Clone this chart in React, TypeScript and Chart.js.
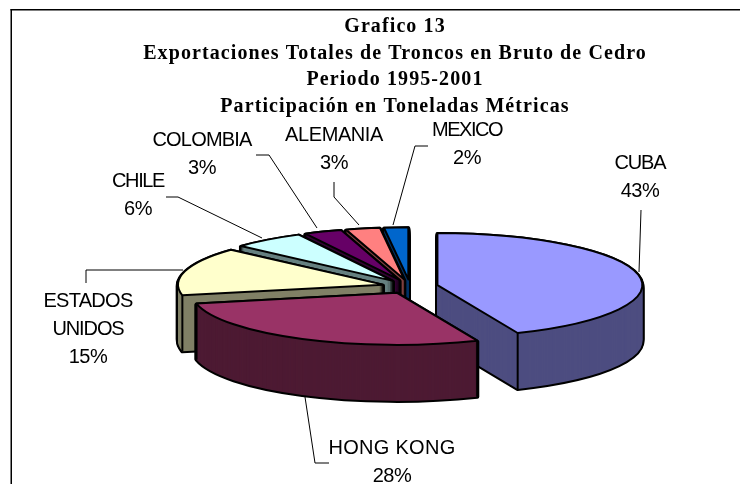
import React, { useEffect, useRef } from "react";
import { Chart, registerables } from "chart.js";

Chart.register(...registerables);

const categories = ["CUBA", "HONG KONG", "ESTADOS UNIDOS", "CHILE", "COLOMBIA", "ALEMANIA", "MEXICO"];
const shares = [43.6, 28.1, 15.0, 5.7, 3.0, 2.7, 1.9];
const percents = ["43%", "28%", "15%", "6%", "3%", "3%", "2%"];
const topColors = ["#9999FF", "#993366", "#FFFFCC", "#CCFFFF", "#660066", "#FF8080", "#0066CC"];
const wallColors = ["#4D4D80", "#4D1A33", "#808066", "#668080", "#330033", "#804040", "#003366"];
const titleLines = [
  "Grafico 13",
  "Exportaciones Totales de Troncos en Bruto de Cedro",
  "Periodo 1995-2001",
  "Participación en Toneladas Métricas",
];
const labelLines = [["CUBA"], ["HONG KONG"], ["ESTADOS", "UNIDOS"], ["CHILE"], ["COLOMBIA"], ["ALEMANIA"], ["MEXICO"]];
const labelTracking = [[-1.1], [0.3], [-0.7, -1.1], [-1.4], [-0.8], [-0.4], [-1.5]];
const labelAnchors = [
  [640, 163], [392, 448], [88, 301], [138, 181], [202, 140], [334, 135], [467, 130],
];
const leaders = [
  [[641, 210], [639, 272]],
  [[305, 397], [315, 463], [329, 463]],
  [[86, 283], [86, 270], [183, 270]],
  [[166, 197], [178, 197], [262, 238]],
  [[256, 155], [269, 155], [317, 228]],
  [[334, 182], [334, 197], [359, 225]],
  [[428, 146], [415, 146], [393, 225]],
];

const PIE_X = 410;
const PIE_Y = 286.5;
const RADIUS = 205;
const SQUASH = 0.254;
const DEPTH = 56;
const EXPLODE = 28;
const LINE = 2;
const LABEL_FONT = '20px "Liberation Sans"';
const LABEL_GAP = 28;

const arcOpts = (bg: string, border: string, width: number) => ({
  backgroundColor: bg,
  borderColor: border,
  borderWidth: width,
  borderJoinStyle: "round",
  borderAlign: "center",
  borderRadius: 0,
  borderDash: [],
  borderDashOffset: 0,
  offset: 0,
  spacing: 0,
  circular: true,
});

const pie3d = {
  id: "pie3d",
  afterDatasetsUpdate(chart: any) {
    chart.getDatasetMeta(0).data.forEach((arc: any) => {
      const mid = (arc.startAngle + arc.endAngle) / 2;
      if (arc.$base === undefined) arc.$base = [arc.x, arc.y];
      arc.x = arc.$base[0] + Math.cos(mid) * EXPLODE;
      arc.y = arc.$base[1] + Math.sin(mid) * EXPLODE;
    });
  },
  beforeDraw(chart: any) {
    const ctx = chart.ctx;
    ctx.fillStyle = "#fff";
    ctx.fillRect(0, 0, chart.width, chart.height);
    ctx.fillStyle = "#000";
    ctx.fillRect(10.5, 9, 729.5, 1.5);
    ctx.fillRect(10.5, 9, 1.5, 475);
    (ctx as any).letterSpacing = "1.1px";
  },
  beforeDatasetsDraw(chart: any) {
    const ctx = chart.ctx;
    (ctx as any).letterSpacing = "0px";
    const area = chart.chartArea;
    const bx = (area.left + area.right) / 2;
    const by = (area.top + area.bottom) / 2;
    ctx.save();
    ctx.translate(PIE_X, PIE_Y);
    ctx.scale(1, SQUASH);
    ctx.translate(-bx, -by);
    const rawStroke = ctx.stroke;
    ctx.stroke = function () {
      ctx.save();
      ctx.setTransform(1, 0, 0, 1, 0, 0);
      rawStroke.call(ctx);
      ctx.restore();
    };

    const arcs = chart.getDatasetMeta(0).data.map((arc: any, i: number) => ({ arc, i }));
    const midY = (a: any) => a.y + Math.sin((a.startAngle + a.endAngle) / 2) * a.outerRadius * 0.5;
    arcs.sort((p: any, q: any) => midY(p.arc) - midY(q.arc));
    const step = 1 / SQUASH;
    arcs.forEach(({ arc, i }: any) => {
      const saved = arc.options;
      const stack = (opts: any) => {
        arc.options = opts;
        for (let k = DEPTH; k >= 1; k--) {
          ctx.save();
          ctx.translate(0, k * step);
          arc.draw(ctx);
          ctx.restore();
        }
      };
      stack(arcOpts("#000", "#000", LINE * 2));
      stack(arcOpts(wallColors[i], wallColors[i], 0));
      arc.options = saved;
      ctx.beginPath();
      [arc.startAngle, arc.endAngle].forEach((a: number) => {
        if (Math.sin(a) <= 0) return;
        const x = arc.x + Math.cos(a) * arc.outerRadius;
        const y = arc.y + Math.sin(a) * arc.outerRadius;
        ctx.moveTo(x, y);
        ctx.lineTo(x, y + DEPTH * step);
      });
      ctx.strokeStyle = "#000";
      ctx.lineWidth = LINE;
      ctx.stroke();
    });
  },
  afterDatasetsDraw(chart: any) {
    const ctx = chart.ctx;
    delete ctx.stroke;
    ctx.restore();
  },
  afterDraw(chart: any) {
    const ctx = chart.ctx;
    ctx.save();
    ctx.strokeStyle = "#000";
    ctx.lineWidth = 1;
    leaders.forEach((pts) => {
      ctx.beginPath();
      pts.forEach(([x, y], n) => (n ? ctx.lineTo(x, y) : ctx.moveTo(x, y)));
      ctx.stroke();
    });
    ctx.fillStyle = "#000";
    ctx.font = LABEL_FONT;
    ctx.textAlign = "center";
    ctx.textBaseline = "middle";
    categories.forEach((_, i) => {
      const [x, y] = labelAnchors[i];
      labelLines[i].forEach((t, n) => {
        (ctx as any).letterSpacing = labelTracking[i][n] + "px";
        ctx.fillText(t, x, y + n * LABEL_GAP);
      });
      (ctx as any).letterSpacing = "-0.5px";
      ctx.fillText(percents[i], x, y + labelLines[i].length * LABEL_GAP);
    });
    ctx.restore();
  },
};

export default function App() {
  const ref = useRef<HTMLCanvasElement>(null);
  useEffect(() => {
    const chart = new Chart(ref.current!, {
      type: "pie",
      data: {
        labels: categories,
        datasets: [
          {
            data: shares,
            backgroundColor: topColors,
            borderColor: "#000",
            borderWidth: LINE,
            borderJoinStyle: "round",
            clip: false,
          } as any,
        ],
      },
      options: {
        responsive: false,
        animation: false,
        radius: RADIUS,
        layout: { padding: { top: 14, left: 50 } },
        plugins: {
          legend: { display: false },
          tooltip: { enabled: false },
          title: {
            display: true,
            text: titleLines,
            color: "#000",
            padding: 0,
            font: { family: '"Liberation Serif"', size: 20, weight: "bold", lineHeight: 1.325 },
          },
        },
      } as any,
      plugins: [pie3d],
    });
    return () => chart.destroy();
  }, []);
  return (
    <div style={{ position: "absolute", left: 0, top: 0, width: 740, height: 484, overflow: "hidden" }}>
      <canvas ref={ref} width={740} height={484} style={{ display: "block" }} />
    </div>
  );
}
